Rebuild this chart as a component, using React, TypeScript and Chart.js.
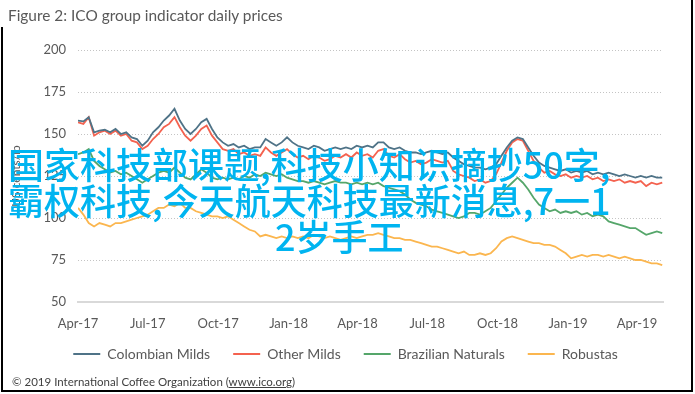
import React, { useEffect, useRef } from "react";
import { Chart, registerables } from "chart.js";

Chart.register(...registerables);

// Day offsets from 1 April 2017 (weekly observations)
const days = [
  0, 7, 14, 21, 28, 35, 42, 49, 56, 63,
  70, 77, 84, 91, 98, 105, 112, 119, 126, 133,
  140, 147, 154, 161, 168, 175, 182, 189, 196, 203,
  210, 217, 224, 231, 238, 245, 252, 259, 266, 273,
  280, 287, 294, 301, 308, 315, 322, 329, 336, 343,
  350, 357, 364, 371, 378, 385, 392, 399, 406, 413,
  420, 427, 434, 441, 448, 455, 462, 469, 476, 483,
  490, 497, 504, 511, 518, 525, 532, 539, 546, 553,
  560, 567, 574, 581, 588, 595, 602, 609, 616, 623,
  630, 637, 644, 651, 658, 665, 672, 679, 686, 693,
  700, 707, 714, 721, 728, 735, 742, 749, 756, 763,
];

const colombianMilds = [
  158, 157.5, 160, 151, 152, 152.5, 151, 153, 150, 151,
  148, 147, 143, 146, 151, 154, 158, 161, 165, 158,
  153, 150, 153, 157, 159, 153, 148, 145, 143, 144,
  142, 143, 141, 142, 142, 147, 145, 143, 145, 148,
  145, 143, 142, 141, 143, 142, 140, 141, 142, 141,
  142, 141, 143, 142, 143, 142, 145, 145, 142, 141,
  142, 140, 139, 139, 138, 139, 140, 139, 138, 139,
  136, 134, 132, 131, 130, 130, 129, 130, 132, 137,
  142, 146, 148, 147, 142, 137, 133, 131, 130, 129,
  128, 129, 127, 128, 127, 128, 126, 127, 126, 127,
  126, 125, 126, 125, 124, 125, 124, 125, 124, 124,
];

const otherMilds = [
  157, 156, 160, 149, 151, 152, 150, 152, 149, 150,
  146, 145, 141, 143, 147, 150, 154, 156, 160, 154,
  149, 146, 149, 153, 155, 149, 145, 141, 140, 141,
  138, 139, 137, 138, 137, 142, 139, 137, 139, 141,
  138, 136, 137, 135, 137, 136, 134, 135, 137, 136,
  138, 136, 139, 137, 138, 136, 140, 141, 137, 136,
  138, 135, 133, 134, 132, 133, 135, 134, 133, 134,
  128, 126, 125, 124, 122, 123, 121, 122, 126, 133,
  140, 145, 147, 146, 140, 134, 130, 127, 128, 126,
  125, 126, 124, 125, 124, 125, 123, 124, 122, 123,
  122, 123, 121, 122, 121, 122, 119, 121, 120, 121,
];

const brazilianNaturals = [
  138, 139, 141, 134, 131, 129, 127, 128, 126, 127,
  125, 123, 121, 123, 125, 127, 128, 127, 130, 127,
  124, 123, 126, 129, 127, 124, 123, 124, 123, 124,
  123, 125, 124, 126, 125, 127, 126, 125, 126, 124,
  123, 122, 122, 121, 122, 121, 120, 121, 122, 121,
  121, 120, 121, 120, 121, 120, 121, 119, 118, 117,
  116, 114, 111, 109, 108, 107, 105, 104, 103, 102,
  101, 100, 101, 103, 103, 102, 104, 106, 110, 114,
  118, 121, 124, 121, 117, 112, 108, 106, 104, 105,
  103, 104, 103, 104, 102, 103, 101, 102, 101, 98,
  97, 96, 95, 94, 94, 92, 90, 91, 92, 91,
];

const robustas = [
  106, 102, 97, 95, 97, 96, 95, 97, 97, 98,
  99, 100, 101, 102, 104, 106, 106, 108, 107, 109,
  106, 106, 104, 103, 102, 101, 101, 100, 101, 99,
  97, 95, 93, 92, 89, 90, 89, 88, 89, 88,
  89, 88, 89, 88, 90, 89, 88, 89, 88, 87,
  88, 89, 88, 89, 90, 90, 91, 90, 89, 88,
  88, 87, 87, 86, 85, 84, 83, 83, 82, 81,
  80, 79, 80, 78, 78, 79, 78, 79, 82, 86,
  88, 89, 88, 87, 86, 85, 85, 84, 84, 83,
  81, 79, 76, 77, 78, 77, 78, 78, 77, 78,
  77, 76, 77, 76, 75, 75, 74, 73, 73, 72,
];

const seriesNames = ["Colombian Milds", "Other Milds", "Brazilian Naturals", "Robustas"];
const seriesColors = ["#4f7387", "#f4624f", "#55a66a", "#fbb64f"];

const xTickDays = [0, 91, 183, 275, 365, 456, 548, 640, 730];
const xTickLabels = ["Apr-17", "Jul-17", "Oct-17", "Jan-18", "Apr-18", "Jul-18", "Oct-18", "Jan-19", "Apr-19"];
const yTickValues = [50, 75, 100, 125, 150, 175, 200];

const titleText = "Figure 2: ICO group indicator daily prices";
const yAxisTitle = "US cents/lb";
const footerPrefix = "© 2019 International Coffee Organization (";
const footerLink = "www.ico.org";
const footerSuffix = ")";
const overlayLines = [
  "国家科技部课题,科技小知识摘抄50字,",
  "霸权科技,今天航天科技最新消息,7一1",
  "2岁手工",
];

const TEXT = "#595959";
const FONT = "Lato, 'Open Sans', sans-serif";

export default function App() {
  const canvasRef = useRef<HTMLCanvasElement | null>(null);

  useEffect(() => {
    document.body.style.margin = "0";
    const canvas = canvasRef.current;
    if (!canvas) return;
    const seriesValues = [colombianMilds, otherMilds, brazilianNaturals, robustas];
    const chart = new Chart(canvas, {
      type: "line",
      data: {
        datasets: seriesNames.map((name, i) => ({
          label: name,
          data: days.map((d, j) => ({ x: d, y: seriesValues[i][j] })),
          borderColor: seriesColors[i],
          backgroundColor: seriesColors[i],
          borderWidth: 1.8,
          pointRadius: 0,
          tension: 0,
          yAxisID: "y",
        })),
      },
      options: {
        animation: false,
        responsive: false,
        devicePixelRatio: 1,
        layout: { padding: { top: 50, left: 0, right: 4, bottom: 23 } },
        plugins: {
          legend: {
            position: "bottom",
            labels: {
              boxWidth: 27,
              boxHeight: 2,
              padding: 23,
              color: TEXT,
              font: { family: FONT, size: 14 },
              generateLabels: (c: any) =>
                (Chart.defaults.plugins.legend.labels as any)
                  .generateLabels(c)
                  .map((l: any) => ({ ...l, lineWidth: 0 })),
            },
          },
          tooltip: { enabled: false },
        },
        scales: {
          x: {
            type: "linear",
            min: 0,
            max: 764,
            afterBuildTicks: (s: any) => {
              s.ticks = xTickDays.map((v) => ({ value: v }));
            },
            ticks: {
              autoSkip: false,
              maxRotation: 0,
              mirror: true,
              padding: -30,
              color: TEXT,
              font: { family: FONT, size: 13 },
              callback: (v: any) => xTickLabels[xTickDays.indexOf(Number(v))],
            },
            grid: { display: false, drawTicks: false },
            border: { display: true, color: "#d9d9d9", width: 2 },
            afterFit: (s: any) => {
              s.height = 22;
            },
          },
          y: {
            type: "linear",
            min: 50,
            max: 200,
            afterBuildTicks: (s: any) => {
              s.ticks = yTickValues.map((v) => ({ value: v }));
            },
            ticks: {
              padding: 12,
              color: TEXT,
              font: { family: FONT, size: 13 },
            },
            grid: {
              drawTicks: false,
              lineWidth: 1,
              color: (ctx: any) => (ctx.tick && ctx.tick.value === 50 ? "rgba(0,0,0,0)" : "#c4c4c4"),
            },
            border: { display: false, dash: [1, 2] },
            title: {
              display: true,
              text: yAxisTitle,
              color: TEXT,
              font: { family: FONT, size: 12 },
              padding: { top: 9, bottom: 0 },
            },
            afterFit: (s: any) => {
              s.width = 78;
            },
          },
          y2: {
            type: "linear",
            position: "right",
            display: true,
            grid: { drawOnChartArea: false, drawTicks: false },
            ticks: { display: false },
            border: { display: false },
            afterFit: (s: any) => {
              s.width = 28;
            },
          },
        },
      } as any,
    });
    return () => chart.destroy();
  }, []);

  return (
    <div
      style={{
        position: "relative",
        width: 695,
        height: 394,
        overflow: "hidden",
        background: "#ffffff",
      }}
    >
      <canvas
        ref={canvasRef}
        width={695}
        height={394}
        style={{ position: "absolute", left: 0, top: 0, width: 695, height: 394 }}
      />
      <div
        style={{
          position: "absolute",
          left: 8,
          top: 5,
          fontFamily: FONT,
          fontSize: 15.4,
          lineHeight: "20px",
          color: TEXT,
          whiteSpace: "nowrap",
        }}
      >
        {titleText}
      </div>
      <div
        style={{
          position: "absolute",
          left: 12,
          top: 375,
          fontFamily: FONT,
          fontSize: 11.5,
          lineHeight: "14px",
          color: "#404040",
          whiteSpace: "nowrap",
        }}
      >
        {footerPrefix}
        <span style={{ textDecoration: "underline" }}>{footerLink}</span>
        {footerSuffix}
      </div>
      {overlayLines.map((t, i) => (
        <div
          key={i}
          style={{
            position: "absolute",
            left: i === 2 ? 275 : 8,
            top: 145 + i * 36,
            fontFamily: "'Noto Sans CJK SC', sans-serif",
            fontWeight: 500,
            fontSize: 36,
            lineHeight: "36px",
            color: "#00b4f0",
            whiteSpace: "nowrap",
          }}
        >
          {t}
        </div>
      ))}
      <div style={{ position: "absolute", left: 1, top: 27, width: 2, height: 365, background: "#000" }} />
      <div style={{ position: "absolute", left: 691, top: 0, width: 2, height: 392, background: "#000" }} />
      <div style={{ position: "absolute", left: 1, top: 390, width: 692, height: 2, background: "#000" }} />
    </div>
  );
}
